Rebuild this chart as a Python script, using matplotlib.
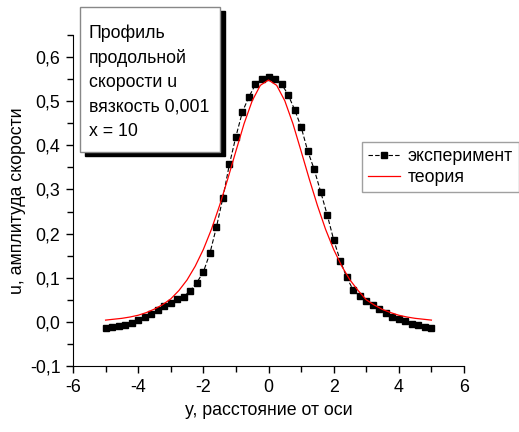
#!/usr/bin/env python3
import numpy as np
import matplotlib
matplotlib.use('Agg')
import matplotlib.pyplot as plt
from matplotlib.patches import Rectangle
from matplotlib.ticker import MultipleLocator, FuncFormatter

# experiment: y from -5 to 5, step 0.2
exp_y = [-5.0, -4.8, -4.6, -4.4, -4.2, -4.0, -3.8, -3.6, -3.4, -3.2,
         -3.0, -2.8, -2.6, -2.4, -2.2, -2.0, -1.8, -1.6, -1.4, -1.2,
         -1.0, -0.8, -0.6, -0.4, -0.2, 0.0, 0.2, 0.4, 0.6, 0.8,
         1.0, 1.2, 1.4, 1.6, 1.8, 2.0, 2.2, 2.4, 2.6, 2.8,
         3.0, 3.2, 3.4, 3.6, 3.8, 4.0, 4.2, 4.4, 4.6, 4.8, 5.0]
exp_u = [-0.015, -0.012, -0.010, -0.006, -0.002, 0.005, 0.011, 0.018, 0.028, 0.035,
         0.042, 0.051, 0.057, 0.071, 0.089, 0.113, 0.155, 0.214, 0.281, 0.357,
         0.420, 0.476, 0.510, 0.538, 0.551, 0.554, 0.551, 0.539, 0.515, 0.481,
         0.442, 0.388, 0.346, 0.295, 0.243, 0.186, 0.139, 0.101, 0.072, 0.058,
         0.047, 0.039, 0.029, 0.020, 0.012, 0.006, 0.001, -0.004, -0.008, -0.012, -0.014]

# theory curve
th_y = [-5.0, -4.75, -4.5, -4.25, -4.0, -3.75, -3.5, -3.25, -3.0, -2.75,
        -2.5, -2.25, -2.0, -1.75, -1.5, -1.25, -1.0, -0.75, -0.5, -0.25,
        0.0, 0.25, 0.5, 0.75, 1.0, 1.25, 1.5, 1.75, 2.0, 2.25,
        2.5, 2.75, 3.0, 3.25, 3.5, 3.75, 4.0, 4.25, 4.5, 4.75, 5.0]
th_u = [0.004, 0.006, 0.008, 0.011, 0.015, 0.021, 0.029, 0.039, 0.052, 0.071,
        0.095, 0.126, 0.164, 0.210, 0.264, 0.324, 0.387, 0.449, 0.501, 0.536,
        0.548, 0.536, 0.501, 0.449, 0.387, 0.324, 0.264, 0.210, 0.164, 0.126,
        0.095, 0.071, 0.050, 0.038, 0.028, 0.021, 0.015, 0.011, 0.008, 0.006, 0.004]

note = 'Профиль\nпродольной\nскорости u\nвязкость 0,001\nx = 10'

plt.rcParams['font.family'] = ['Liberation Sans', 'DejaVu Sans']
plt.rcParams['axes.unicode_minus'] = False
fs = 12.8

W, H = 519, 432
fig = plt.figure(figsize=(W / 100, H / 100), dpi=100)
ax = fig.add_axes([73 / W, 1 - 366 / H, 391 / W, 331 / H])

ax.plot(exp_y, exp_u, color='black', lw=0.8, ls=(0, (4, 2)), marker='s',
        ms=4.8, mfc='black', mec='black', label='эксперимент')
ax.plot(th_y, th_u, color='red', lw=0.9, label='теория')

ax.set_xlim(-6, 6)
ax.set_ylim(-0.1, 0.65)
ax.xaxis.set_major_locator(MultipleLocator(2))
ax.xaxis.set_minor_locator(MultipleLocator(1))
ax.yaxis.set_major_locator(MultipleLocator(0.1))
ax.yaxis.set_minor_locator(MultipleLocator(0.05))
ax.yaxis.set_major_formatter(FuncFormatter(lambda v, p: ('%.1f' % v).replace('.', ',')))
ax.spines['top'].set_visible(False)
ax.spines['right'].set_visible(False)
ax.tick_params(which='major', direction='out', length=5, width=1, labelsize=fs, pad=4)
ax.tick_params(which='minor', direction='out', length=4, width=1)
ax.set_xlabel('y, расстояние от оси', fontsize=fs, labelpad=5)
ax.set_ylabel('u, амплитуда скорости', fontsize=fs, labelpad=3)

leg = ax.legend(loc='upper left', bbox_to_anchor=(362 / W, 1 - 142 / H),
                bbox_transform=fig.transFigure, borderaxespad=0, fancybox=False,
                frameon=True, fontsize=fs, handlelength=1.8, handletextpad=0.4,
                borderpad=0.35, labelspacing=0.2)
leg.get_frame().set_edgecolor('#888888')
leg.get_frame().set_linewidth(1)

# note box with black shadow
fig.patches.append(Rectangle((85 / W, 1 - 156 / H), 140 / W, 145 / H,
                             transform=fig.transFigure, facecolor='black',
                             edgecolor='black', zorder=5))
fig.patches.append(Rectangle((80 / W, 1 - 152 / H), 140 / W, 145 / H,
                             transform=fig.transFigure, facecolor='white',
                             edgecolor='#888888', lw=1, zorder=6))
fig.text(89 / W, 1 - 24 / H, note, fontsize=fs, va='top', ha='left',
         linespacing=1.55, zorder=7)

fig.savefig('out.png', dpi=100)
